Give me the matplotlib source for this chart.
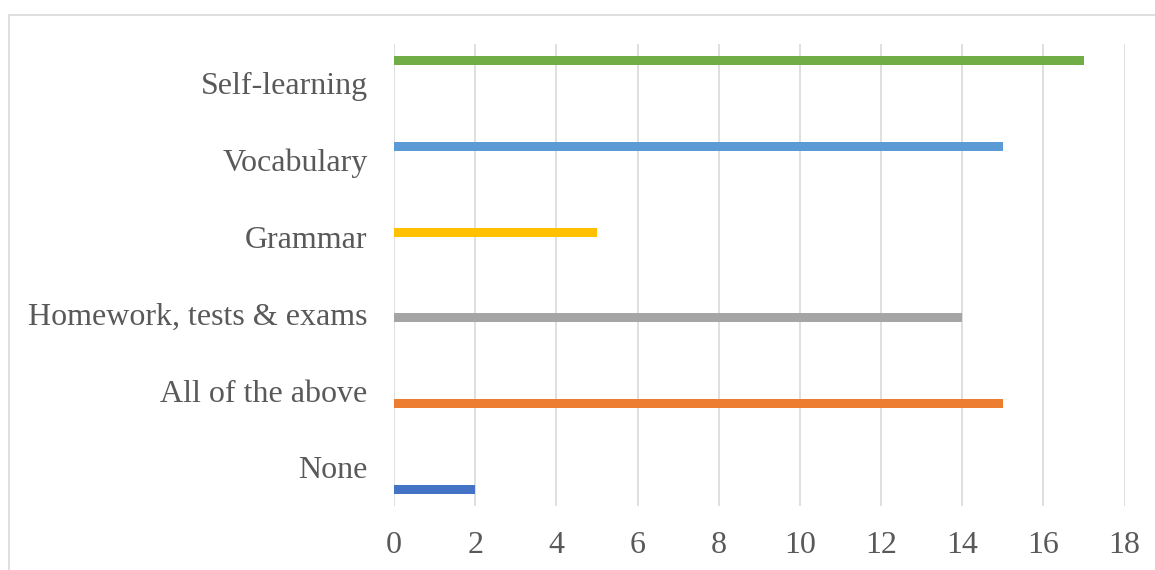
import matplotlib.pyplot as plt
from matplotlib.patches import Rectangle

categories = ['None', 'All of the above', 'Homework, tests & exams',
              'Grammar', 'Vocabulary', 'Self-learning']
values = [2, 15, 14, 5, 15, 17]
colors = ['#4472C4', '#ED7D31', '#A5A5A5', '#FFC000', '#5B9BD5', '#70AD47']
xticks = [0, 2, 4, 6, 8, 10, 12, 14, 16, 18]

plt.rcParams['font.family'] = 'Liberation Serif'
text_color = '#595959'
grid_color = '#D9D9D9'

W, H = 1155, 570
fig = plt.figure(figsize=(W/100, H/100), dpi=100)
ax = fig.add_axes([394/W, 1 - 506/H, (1124.5 - 394)/W, (506 - 44)/H])

# one series per category, clustered like a 6-series bar chart
n = len(categories)
bar_h = 0.113
for i, (v, c) in enumerate(zip(values, colors)):
    offset = (i - (n - 1)/2)*bar_h
    ax.barh(i + offset, v, height=bar_h, color=c, zorder=3)

ax.set_ylim(-0.5, n - 0.5)
ax.set_xlim(0, 18)
ax.set_yticks(range(n))
ax.set_yticklabels(categories)
ax.set_xticks(xticks)
ax.tick_params(axis='both', length=0, labelsize=23, colors=text_color)
ax.tick_params(axis='y', pad=19)
ax.tick_params(axis='x', pad=18)
ax.grid(axis='x', color=grid_color, linewidth=1.2, zorder=0)
for s in ax.spines.values():
    s.set_visible(False)

# chart border
fig.patches.append(Rectangle((9/W, -0.1), 1.2, 1 - 15/H + 0.1,
                             transform=fig.transFigure, fill=False,
                             edgecolor=grid_color, linewidth=1.2))

fig.savefig('out.png', dpi=100)
